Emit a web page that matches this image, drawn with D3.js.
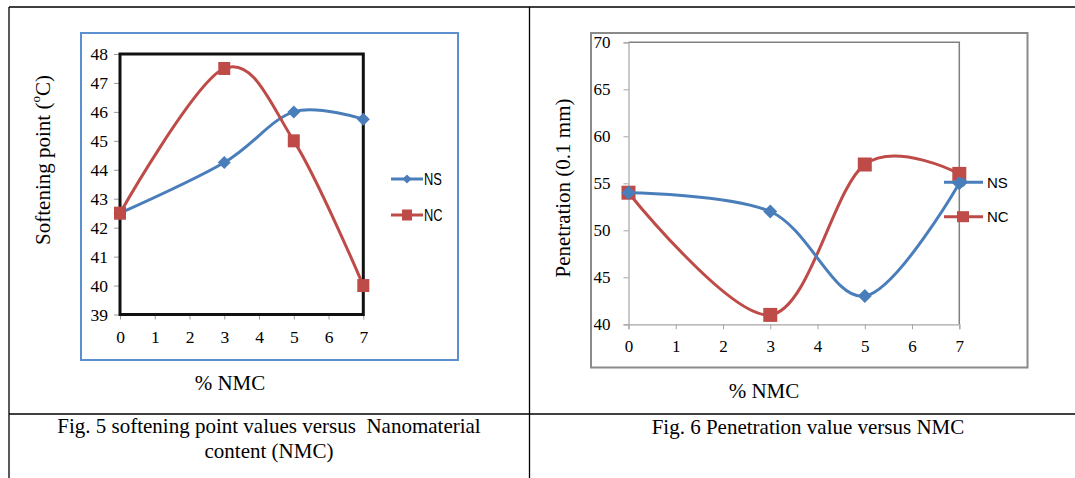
<!DOCTYPE html>
<html>
<head>
<meta charset="utf-8">
<script src="https://cdn.jsdelivr.net/npm/d3@7"></script>
<style>
  html, body { margin: 0; padding: 0; background: #fff; }
  svg { display: block; }
  text { font-family: "Liberation Serif", "Times New Roman", serif; fill: #000; }
</style>
</head>
<body>
<svg id="chart" width="1075" height="478"></svg>
<script>
// ---------- data ----------
const nmcValues = [0, 3, 5, 7];
const softeningNS = [42.5, 44.25, 46, 45.75];
const softeningNC = [42.5, 47.5, 45, 40];
const penetrationNS = [54, 52, 43, 55];
const penetrationNC = [54, 41, 57, 56];
const xTickValues = [0, 1, 2, 3, 4, 5, 6, 7];
const softeningTicks = [39, 40, 41, 42, 43, 44, 45, 46, 47, 48];
const penetrationTicks = [40, 45, 50, 55, 60, 65, 70];
const seriesNames = ["NS", "NC"];
const captionLeft = ["Fig. 5 softening point values versus  Nanomaterial", "content (NMC)"];
const captionRight = "Fig. 6 Penetration value versus NMC";

const BLUE = "#4a7ebb", RED = "#be4b48";
const svg = d3.select("#chart");

// ---------- table lines ----------
const table = svg.append("g").attr("stroke", "#000").attr("stroke-width", 1.3);
table.append("line").attr("x1", 9).attr("x2", 1075).attr("y1", 7).attr("y2", 7);
table.append("line").attr("x1", 9).attr("x2", 9).attr("y1", 7).attr("y2", 478);
table.append("line").attr("x1", 529.5).attr("x2", 529.5).attr("y1", 7).attr("y2", 478);
table.append("line").attr("x1", 9).attr("x2", 1075).attr("y1", 414).attr("y2", 414);

const curve = d3.curveCardinal.tension(0);

function drawDiamond(g, x, y, d, color) {
  const h = d / 2;
  g.append("path").attr("d", `M${x},${y - h}L${x + h},${y}L${x},${y + h}L${x - h},${y}Z`).attr("fill", color);
}
function drawSquare(g, x, y, w, h, color) {
  g.append("rect").attr("x", x - w / 2).attr("y", y - h / 2).attr("width", w).attr("height", h).attr("fill", color);
}

// ================= LEFT CHART =================
(function () {
  const g = svg.append("g");
  g.append("rect").attr("x", 81).attr("y", 33).attr("width", 377).attr("height", 327)
    .attr("fill", "#fff").attr("stroke", "#5b8fd0").attr("stroke-width", 2);

  const x = d3.scaleLinear().domain([0, 7]).range([120, 363.3]);
  const y = d3.scaleLinear().domain([39, 48]).range([314.5, 54]);

  const yAxis = g.append("g").attr("transform", "translate(120,0)")
    .call(d3.axisLeft(y).tickValues(softeningTicks).tickSize(6).tickPadding(6).tickFormat(d3.format("d")));
  const xAxis = g.append("g").attr("transform", "translate(0,314.5)")
    .call(d3.axisBottom(x).tickValues(xTickValues).tickSize(5).tickPadding(11).tickFormat(d3.format("d")));
  [xAxis, yAxis].forEach(a => {
    a.select(".domain").remove();
    a.selectAll(".tick line").attr("stroke", "#999");
    a.selectAll(".tick text").style("font-family", "Liberation Serif, serif").style("font-size", "17.5px").attr("fill", "#222");
  });

  g.append("rect").attr("x", 120).attr("y", 54).attr("width", 243.3).attr("height", 260.5)
    .attr("fill", "none").attr("stroke", "#111").attr("stroke-width", 3);

  const line = d3.line().x(d => x(d[0])).y(d => y(d[1])).curve(curve);
  const ns = nmcValues.map((v, i) => [v, softeningNS[i]]);
  const nc = nmcValues.map((v, i) => [v, softeningNC[i]]);
  g.append("path").attr("d", line(ns)).attr("fill", "none").attr("stroke", BLUE).attr("stroke-width", 3);
  g.append("path").attr("d", line(nc)).attr("fill", "none").attr("stroke", RED).attr("stroke-width", 3);
  ns.forEach(d => drawDiamond(g, x(d[0]), y(d[1]), 13, BLUE));
  nc.forEach(d => drawSquare(g, x(d[0]), y(d[1]), 12, 13, RED));

  const legY = [179, 215];
  [BLUE, RED].forEach((c, i) => {
    g.append("line").attr("x1", 391).attr("x2", 423).attr("y1", legY[i]).attr("y2", legY[i])
      .attr("stroke", c).attr("stroke-width", 3);
    if (i === 0) drawDiamond(g, 407, legY[i], 9, c); else drawSquare(g, 407, legY[i], 10, 11, c);
    g.append("text").attr("transform", `translate(424,${legY[i]}) scale(0.78,1)`)
      .attr("dominant-baseline", "central")
      .style("font-family", "Liberation Sans, Arial, sans-serif").style("font-size", "16.5px")
      .attr("fill", "#222").text(seriesNames[i]);
  });

  const yt = g.append("text").attr("transform", "translate(43,160) rotate(-90)")
    .attr("text-anchor", "middle").attr("dominant-baseline", "central").style("font-size", "21px");
  yt.append("tspan").text("Softening point (");
  yt.append("tspan").attr("baseline-shift", "super").style("font-size", "13px").text("o");
  yt.append("tspan").text("C)");
  g.append("text").attr("x", 230).attr("y", 390).attr("text-anchor", "middle")
    .style("font-size", "21px").text("% NMC");

  captionLeft.forEach((t, i) => {
    g.append("text").attr("x", 269).attr("y", 433 + i * 25).attr("text-anchor", "middle")
      .style("font-size", "21px").style("white-space", "pre").text(t);
  });
})();

// ================= RIGHT CHART =================
(function () {
  const g = svg.append("g");
  g.append("rect").attr("x", 591).attr("y", 33).attr("width", 436.5).attr("height", 334.5)
    .attr("fill", "#fff").attr("stroke", "#8a8a8a").attr("stroke-width", 2);

  const x = d3.scaleLinear().domain([0, 7]).range([628.5, 959.3]);
  const y = d3.scaleLinear().domain([40, 70]).range([324.3, 42.3]);

  g.append("path").attr("d", `M${x(0)},${y(70)}H${x(7)}V${y(40)}`)
    .attr("fill", "none").attr("stroke", "#808080").attr("stroke-width", 1.5);

  const yAxis = g.append("g").attr("transform", `translate(${x(0)},0)`)
    .call(d3.axisLeft(y).tickValues(penetrationTicks).tickSize(5).tickPadding(13).tickFormat(d3.format("d")));
  const xAxis = g.append("g").attr("transform", `translate(0,${y(40)})`)
    .call(d3.axisBottom(x).tickValues(xTickValues).tickSize(5).tickPadding(11).tickFormat(d3.format("d")));
  [xAxis, yAxis].forEach(a => {
    a.select(".domain").attr("stroke", "#a6a6a6").attr("stroke-width", 1.2);
    a.selectAll(".tick line").attr("stroke", "#a6a6a6");
    a.selectAll(".tick text").style("font-family", "Liberation Serif, serif").style("font-size", "17px").attr("fill", "#333");
  });

  const line = d3.line().x(d => x(d[0])).y(d => y(d[1])).curve(curve);
  const ns = nmcValues.map((v, i) => [v, penetrationNS[i]]);
  const nc = nmcValues.map((v, i) => [v, penetrationNC[i]]);
  g.append("path").attr("d", line(nc)).attr("fill", "none").attr("stroke", RED).attr("stroke-width", 3);
  nc.forEach(d => drawSquare(g, x(d[0]), y(d[1]), 14, 14, RED));
  g.append("path").attr("d", line(ns)).attr("fill", "none").attr("stroke", BLUE).attr("stroke-width", 3);
  ns.forEach(d => drawDiamond(g, x(d[0]), y(d[1]), 14, BLUE));

  const legY = [182.3, 216.7];
  [BLUE, RED].forEach((c, i) => {
    g.append("line").attr("x1", 944).attr("x2", 983).attr("y1", legY[i]).attr("y2", legY[i])
      .attr("stroke", c).attr("stroke-width", 3);
    if (i === 0) drawDiamond(g, 963, legY[i], 10, c); else drawSquare(g, 963, legY[i], 12, 11, c);
    g.append("text").attr("x", 987).attr("y", legY[i]).attr("dominant-baseline", "central")
      .style("font-family", "Liberation Sans, Arial, sans-serif").style("font-size", "15px")
      .attr("fill", "#222").text(seriesNames[i]);
  });

  g.append("text").attr("transform", "translate(563,188) rotate(-90)")
    .attr("text-anchor", "middle").attr("dominant-baseline", "central").style("font-size", "21px")
    .text("Penetration (0.1 mm)");
  g.append("text").attr("x", 764).attr("y", 398).attr("text-anchor", "middle")
    .style("font-size", "21px").text("% NMC");
  g.append("text").attr("x", 808).attr("y", 434).attr("text-anchor", "middle")
    .style("font-size", "21px").text(captionRight);
})();
</script>
</body>
</html>
